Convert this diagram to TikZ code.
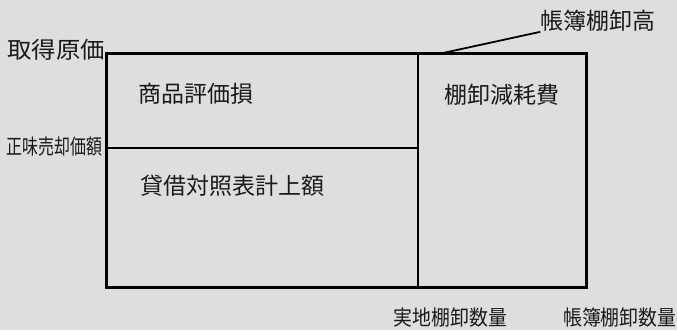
\documentclass[tikz,border=0pt]{standalone}
\usepackage{fontspec}
\newfontfamily\jp{Noto Sans CJK JP}
\definecolor{bg}{HTML}{DEDEDE}
\definecolor{ink}{HTML}{1A1A1A}
\tikzset{
  lbl/.style={inner sep=0pt, text=ink, font=\jp\fontsize{23}{23}\selectfont},
  smalllbl/.style={inner sep=0pt, text=ink, font=\jp\fontsize{21}{21}\selectfont},
  outer/.style={line width=3pt, draw=black},
  inner/.style={line width=1.3pt, draw=black},
  leader/.style={line width=1.8pt, draw=black}
}
\begin{document}
\begin{tikzpicture}[x=1pt,y=-1pt]
\fill[bg] (0,0) rectangle (677,330);
\useasboundingbox (0,0) rectangle (677,330);
\coordinate (tl) at (106,53);
\coordinate (br) at (586,287);
\coordinate (vt) at (418,53);
\coordinate (vb) at (418,287);
\coordinate (hl) at (106,148);
\coordinate (hr) at (418,148);
\coordinate (lt) at (443,53);
\draw[inner] (vt) -- (vb);
\draw[inner] (hl) -- (hr);
\draw[outer] (tl) rectangle (br);
\node[lbl, xscale=1.06] (cost) at (56,49.5) {取得原価};
\node[smalllbl, xscale=0.76] (nrv) at (54.5,146.5) {正味売却価額};
\node[lbl] (loss) at (195.5,93.5) {商品評価損};
\node[lbl] (bs) at (232,186) {貸借対照表計上額};
\node[lbl] (shr) at (502,95) {棚卸減耗費};
\node[lbl] (book) at (598,21) {帳簿棚卸高};
\node[smalllbl, xscale=0.9] (actq) at (450.5,318) {実地棚卸数量};
\node[smalllbl, xscale=0.9, anchor=west] (bookq) at (563,318) {帳簿棚卸数量};
\draw[leader] (lt) -- (book.south west);
\end{tikzpicture}
\end{document}
